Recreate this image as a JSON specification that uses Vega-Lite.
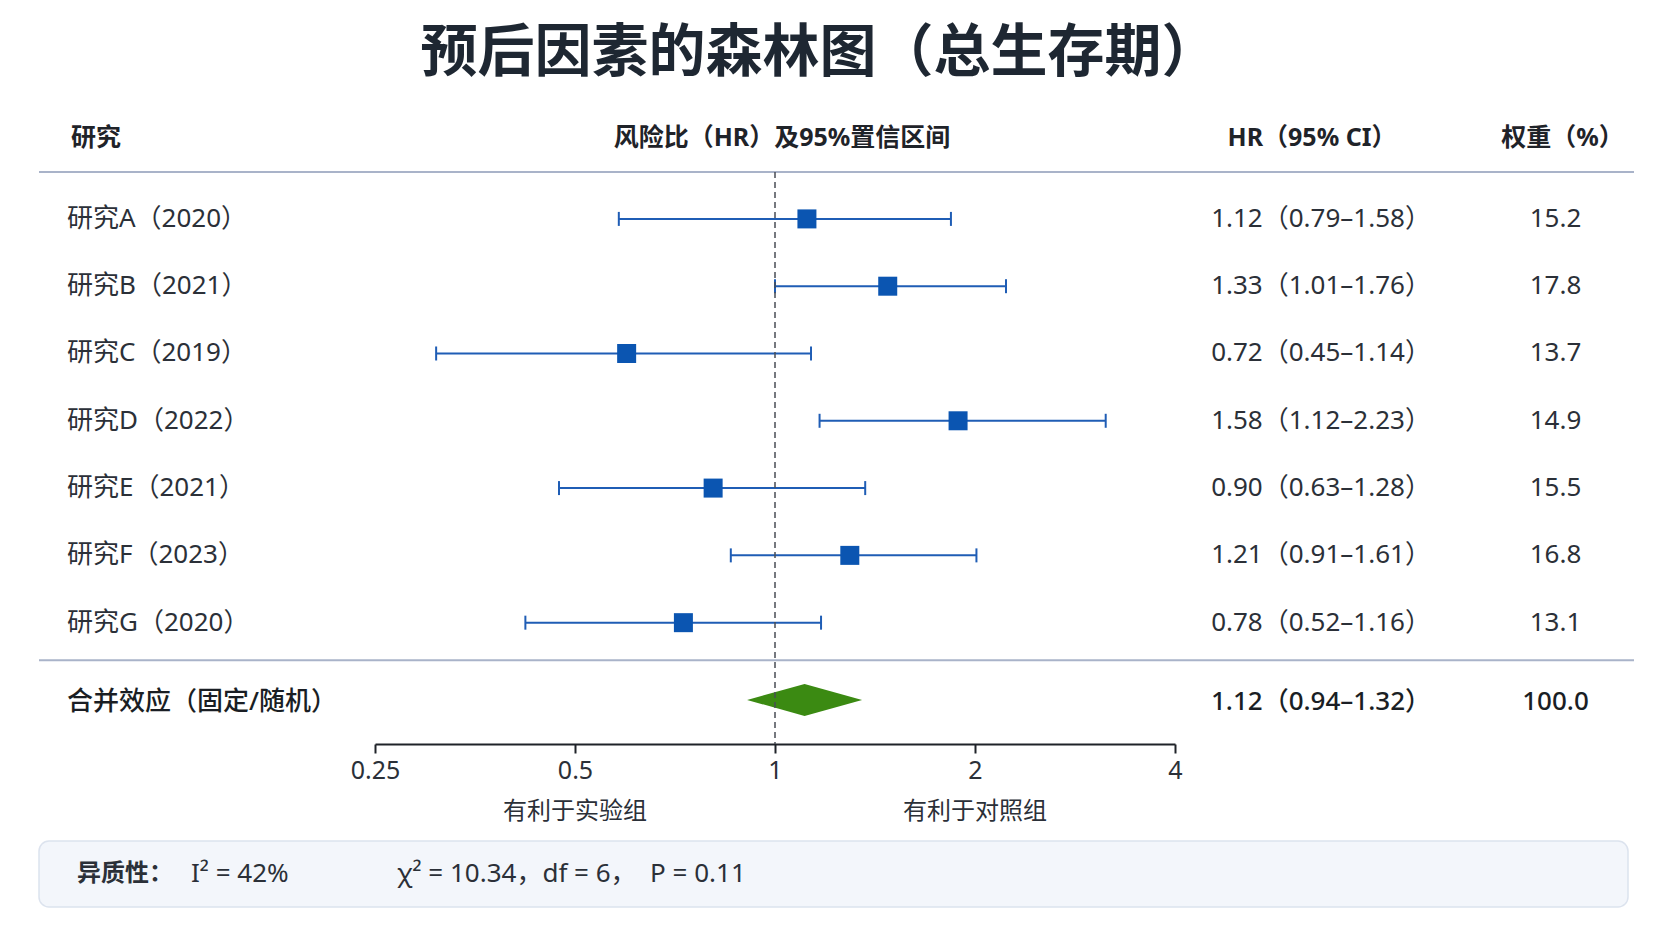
{
  "$schema": "https://vega.github.io/schema/vega-lite/v6.json",
  "background": "#ffffff",
  "padding": {"left": 38, "top": 25, "right": 0, "bottom": 0},
  "title": {
    "text": "预后因素的森林图（总生存期）",
    "fontSize": 57,
    "fontWeight": "bold",
    "color": "#1e2732",
    "anchor": "middle",
    "dx": -17,
    "offset": 43
  },
  "datasets": {
    "rows": [
      {"type": "study", "row": 1, "study": "研究A（2020）", "est": 1.117, "lower": 0.582, "upper": 1.840, "ci": "1.12（0.79–1.58）", "weight": 15.2},
      {"type": "study", "row": 2, "study": "研究B（2021）", "est": 1.478, "lower": 1.000, "upper": 2.227, "ci": "1.33（1.01–1.76）", "weight": 17.8},
      {"type": "study", "row": 3, "study": "研究C（2019）", "est": 0.598, "lower": 0.309, "upper": 1.133, "ci": "0.72（0.45–1.14）", "weight": 13.7},
      {"type": "study", "row": 4, "study": "研究D（2022）", "est": 1.886, "lower": 1.167, "upper": 3.146, "ci": "1.58（1.12–2.23）", "weight": 14.9},
      {"type": "study", "row": 5, "study": "研究E（2021）", "est": 0.807, "lower": 0.473, "upper": 1.367, "ci": "0.90（0.63–1.28）", "weight": 15.5},
      {"type": "study", "row": 6, "study": "研究F（2023）", "est": 1.296, "lower": 0.858, "upper": 2.010, "ci": "1.21（0.91–1.61）", "weight": 16.8},
      {"type": "study", "row": 7, "study": "研究G（2020）", "est": 0.728, "lower": 0.421, "upper": 1.173, "ci": "0.78（0.52–1.16）", "weight": 13.1},
      {"type": "pooled", "row": 8, "study": "合并效应（固定/随机）", "est": 1.108, "lower": 0.907, "upper": 1.351, "ci": "1.12（0.94–1.32）", "weight": 100.0}
    ],
    "favor": [
      {"label": "有利于实验组", "at": 0.5},
      {"label": "有利于对照组", "at": 2}
    ],
    "het": [
      {"head": "异质性：", "i2": "I² = 42%", "stat": "χ² = 10.34，df = 6，\u00a0 P = 0.11"}
    ],
    "one": [{}]
  },
  "vconcat": [
    {
      "hconcat": [
        {
          "width": 336,
          "height": 572,
          "title": {"text": "研究", "anchor": "start", "dx": 33, "offset": 20},
          "layer": [
            {
              "data": {"name": "one"},
              "mark": {"type": "rule", "color": "#a9b3c9", "strokeWidth": 2},
              "encoding": {"y": {"datum": 0.303, "type": "quantitative", "scale": {"domain": [0.303, 8.803], "reverse": true, "nice": false, "zero": false}, "axis": null}}
            },
            {
              "data": {"name": "one"},
              "mark": {"type": "rule", "color": "#a9b3c9", "strokeWidth": 2},
              "encoding": {"y": {"datum": 7.56, "type": "quantitative"}}
            },
            {
              "data": {"name": "rows"},
              "transform": [{"filter": "datum.type === 'study'"}],
              "mark": {"type": "text", "align": "left", "dx": 28},
              "encoding": {
                "x": {"datum": 0, "type": "quantitative", "scale": {"domain": [0, 1]}, "axis": null},
                "y": {"field": "row", "type": "quantitative"},
                "text": {"field": "study"}
              }
            },
            {
              "data": {"name": "rows"},
              "transform": [{"filter": "datum.type === 'pooled'"}],
              "mark": {"type": "text", "align": "left", "dx": 28, "dy": 12, "fontWeight": 500, "color": "#1a1e24"},
              "encoding": {
                "x": {"datum": 0, "type": "quantitative"},
                "y": {"field": "row", "type": "quantitative"},
                "text": {"field": "study"}
              }
            }
          ]
        },
        {
          "width": 800,
          "height": 572,
          "title": {"text": "风险比（HR）及95%置信区间", "anchor": "middle", "dx": 7, "offset": 20},
          "layer": [
            {
              "data": {"name": "one"},
              "mark": {"type": "rule", "color": "#a9b3c9", "strokeWidth": 2},
              "encoding": {"y": {"datum": 0.303, "type": "quantitative", "scale": {"domain": [0.303, 8.803], "reverse": true, "nice": false, "zero": false}, "axis": null}}
            },
            {
              "data": {"name": "one"},
              "mark": {"type": "rule", "color": "#a9b3c9", "strokeWidth": 2},
              "encoding": {"y": {"datum": 7.56, "type": "quantitative"}}
            },
            {
              "data": {"name": "rows"},
              "transform": [{"filter": "datum.type === 'study'"}],
              "mark": {"type": "rule", "color": "#1f5db5", "strokeWidth": 2},
              "encoding": {
                "x": {
                  "field": "lower", "type": "quantitative", "title": null,
                  "scale": {"type": "log", "base": 2, "domain": [0.25, 4], "nice": false},
                  "axis": {"values": [0.25, 0.5, 1, 2, 4], "format": "~g"}
                },
                "x2": {"field": "upper"},
                "y": {"field": "row", "type": "quantitative"}
              }
            },
            {
              "data": {"name": "rows"},
              "transform": [
                {"filter": "datum.type === 'study'"},
                {"fold": ["lower", "upper"], "as": ["end", "val"]}
              ],
              "mark": {"type": "tick", "orient": "vertical", "size": 14, "thickness": 2, "color": "#1f5db5", "opacity": 1},
              "encoding": {
                "x": {"field": "val", "type": "quantitative", "title": null},
                "y": {"field": "row", "type": "quantitative"}
              }
            },
            {
              "data": {"name": "rows"},
              "transform": [{"filter": "datum.type === 'study'"}],
              "mark": {"type": "point", "shape": "square", "filled": true, "size": 361, "color": "#0b55b1", "opacity": 1},
              "encoding": {
                "x": {"field": "est", "type": "quantitative", "title": null},
                "y": {"field": "row", "type": "quantitative"}
              }
            },
            {
              "data": {"name": "rows"},
              "transform": [{"filter": "datum.type === 'pooled'"}],
              "mark": {"type": "point", "shape": "M-1,0L0,-0.278L1,0L0,0.278Z", "filled": true, "size": 13225, "color": "#3b8a12", "opacity": 1},
              "encoding": {
                "x": {"field": "est", "type": "quantitative", "title": null},
                "y": {"field": "row", "type": "quantitative"},
                "yOffset": {"value": 10}
              }
            },
            {
              "data": {"name": "one"},
              "mark": {"type": "rule", "color": "#4a4e55", "strokeWidth": 1.5, "strokeDash": [6, 4]},
              "encoding": {
                "x": {"datum": 1, "type": "quantitative"},
                "y": {"datum": 0.303, "type": "quantitative"},
                "y2": {"datum": 8.803}
              }
            },
            {
              "data": {"name": "favor"},
              "mark": {"type": "text", "fontSize": 24},
              "encoding": {
                "x": {"field": "at", "type": "quantitative", "title": null},
                "y": {"datum": 9.81, "type": "quantitative"},
                "text": {"field": "label"}
              }
            }
          ]
        },
        {
          "width": 278,
          "height": 572,
          "title": {"text": "HR（95% CI）", "anchor": "middle", "dx": -2, "offset": 20},
          "layer": [
            {
              "data": {"name": "one"},
              "mark": {"type": "rule", "color": "#a9b3c9", "strokeWidth": 2},
              "encoding": {"y": {"datum": 0.303, "type": "quantitative", "scale": {"domain": [0.303, 8.803], "reverse": true, "nice": false, "zero": false}, "axis": null}}
            },
            {
              "data": {"name": "one"},
              "mark": {"type": "rule", "color": "#a9b3c9", "strokeWidth": 2},
              "encoding": {"y": {"datum": 7.56, "type": "quantitative"}}
            },
            {
              "data": {"name": "rows"},
              "transform": [{"filter": "datum.type === 'study'"}],
              "mark": {"type": "text", "align": "center", "dx": 7},
              "encoding": {
                "x": {"datum": 0.5, "type": "quantitative", "scale": {"domain": [0, 1]}, "axis": null},
                "y": {"field": "row", "type": "quantitative"},
                "text": {"field": "ci"}
              }
            },
            {
              "data": {"name": "rows"},
              "transform": [{"filter": "datum.type === 'pooled'"}],
              "mark": {"type": "text", "align": "center", "dx": 7, "dy": 12, "fontWeight": 500, "color": "#1a1e24"},
              "encoding": {
                "x": {"datum": 0.5, "type": "quantitative"},
                "y": {"field": "row", "type": "quantitative"},
                "text": {"field": "ci"}
              }
            }
          ]
        },
        {
          "width": 181,
          "height": 572,
          "title": {"text": "权重（%）", "anchor": "middle", "dx": 19, "offset": 20},
          "layer": [
            {
              "data": {"name": "one"},
              "mark": {"type": "rule", "color": "#a9b3c9", "strokeWidth": 2},
              "encoding": {"y": {"datum": 0.303, "type": "quantitative", "scale": {"domain": [0.303, 8.803], "reverse": true, "nice": false, "zero": false}, "axis": null}}
            },
            {
              "data": {"name": "one"},
              "mark": {"type": "rule", "color": "#a9b3c9", "strokeWidth": 2},
              "encoding": {"y": {"datum": 7.56, "type": "quantitative"}}
            },
            {
              "data": {"name": "rows"},
              "transform": [{"filter": "datum.type === 'study'"}],
              "mark": {"type": "text", "align": "center", "dx": 12},
              "encoding": {
                "x": {"datum": 0.5, "type": "quantitative", "scale": {"domain": [0, 1]}, "axis": null},
                "y": {"field": "row", "type": "quantitative"},
                "text": {"field": "weight", "format": ".1f"}
              }
            },
            {
              "data": {"name": "rows"},
              "transform": [{"filter": "datum.type === 'pooled'"}],
              "mark": {"type": "text", "align": "center", "dx": 12, "dy": 12, "fontWeight": 500, "color": "#1a1e24"},
              "encoding": {
                "x": {"datum": 0.5, "type": "quantitative"},
                "y": {"field": "row", "type": "quantitative"},
                "text": {"field": "weight", "format": ".1f"}
              }
            }
          ]
        }
      ],
      "spacing": 0,
      "bounds": "flush"
    },
    {
      "width": 1589,
      "height": 66,
      "view": {"fill": "#f3f6fb", "stroke": "#dce3ee", "strokeWidth": 1.5, "cornerRadius": 10},
      "data": {"name": "het"},
      "encoding": {
        "x": {"datum": 0, "type": "quantitative", "scale": {"domain": [0, 1]}, "axis": null},
        "y": {"datum": 0.5, "type": "quantitative", "scale": {"domain": [0, 1]}, "axis": null}
      },
      "layer": [
        {"mark": {"type": "text", "align": "left", "dx": 38, "fontSize": 24, "fontWeight": "bold"}, "encoding": {"text": {"field": "head"}}},
        {"mark": {"type": "text", "align": "left", "dx": 152, "fontSize": 26}, "encoding": {"text": {"field": "i2"}}},
        {"mark": {"type": "text", "align": "left", "dx": 358, "fontSize": 26}, "encoding": {"text": {"field": "stat"}}}
      ]
    }
  ],
  "spacing": 16,
  "config": {
    "font": "'Noto Sans', 'Noto Sans CJK SC'",
    "view": {"stroke": null},
    "text": {"fontSize": 26, "color": "#2b3038", "baseline": "middle"},
    "title": {"fontSize": 25, "fontWeight": "bold", "color": "#1f2329"},
    "axisX": {
      "grid": false,
      "domainColor": "#1f2329",
      "domainWidth": 2,
      "tickColor": "#1f2329",
      "tickWidth": 2,
      "tickSize": 9,
      "labelFontSize": 25,
      "labelColor": "#2b3038",
      "labelPadding": 5,
      "labelFlush": false,
      "labelOverlap": false
    }
  }
}
